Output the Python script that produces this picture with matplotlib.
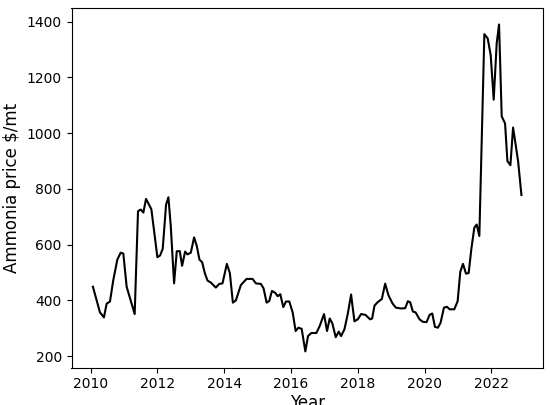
import matplotlib
matplotlib.use("Agg")
import matplotlib.pyplot as plt

years = [2010.07,2010.28,2010.40,2010.48,2010.58,2010.68,2010.80,2010.90,2010.98,2011.08,2011.20,2011.32,2011.42,2011.50,2011.58,2011.66,2011.82,2012.00,2012.08,2012.16,2012.26,2012.33,2012.40,2012.50,2012.58,2012.67,2012.74,2012.83,2012.90,2013.00,2013.10,2013.18,2013.26,2013.34,2013.42,2013.50,2013.60,2013.75,2013.85,2013.95,2014.08,2014.17,2014.26,2014.35,2014.50,2014.67,2014.85,2014.95,2015.10,2015.18,2015.27,2015.35,2015.43,2015.53,2015.60,2015.68,2015.77,2015.85,2015.95,2016.05,2016.14,2016.22,2016.32,2016.43,2016.51,2016.61,2016.76,2016.86,2016.99,2017.08,2017.16,2017.24,2017.34,2017.43,2017.50,2017.60,2017.70,2017.80,2017.90,2018.00,2018.10,2018.23,2018.37,2018.43,2018.50,2018.59,2018.72,2018.82,2018.92,2019.04,2019.14,2019.29,2019.42,2019.50,2019.57,2019.65,2019.73,2019.85,2019.95,2020.06,2020.15,2020.23,2020.31,2020.40,2020.48,2020.58,2020.67,2020.75,2020.89,2020.99,2021.07,2021.15,2021.24,2021.32,2021.40,2021.49,2021.56,2021.64,2021.79,2021.89,2021.98,2022.07,2022.16,2022.23,2022.31,2022.41,2022.48,2022.57,2022.65,2022.80,2022.90]
prices = [449,357,339,388,396,473,546,571,568,449,400,351,720,726,715,764,727,555,561,585,744,770,668,461,576,577,524,575,565,571,626,595,546,537,498,471,464,446,459,461,531,498,392,400,455,477,477,461,459,443,392,398,434,427,415,422,376,396,396,357,290,302,298,217,272,283,283,308,351,290,335,317,268,288,272,296,351,421,325,332,351,348,332,335,381,393,405,460,418,389,374,371,372,397,393,360,357,332,323,322,348,353,305,302,320,374,377,368,368,397,503,531,496,498,584,661,672,631,1355,1340,1280,1120,1323,1390,1060,1035,900,885,1020,900,778]

fig, ax = plt.subplots(figsize=(5.5, 4.05), dpi=100)
ax.plot(years, prices, color="black", linewidth=1.5)
ax.set_xlabel("Year", fontsize=12, labelpad=2)
ax.set_ylabel("Ammonia price $/mt", fontsize=12)
ax.set_xticks([2010, 2012, 2014, 2016, 2018, 2020, 2022])
ax.set_yticks([200, 400, 600, 800, 1000, 1200, 1400])
ax.tick_params(labelsize=10)
fig.subplots_adjust(left=0.13, right=0.987, top=0.98, bottom=0.092)
fig.savefig("out.png", dpi=100)
